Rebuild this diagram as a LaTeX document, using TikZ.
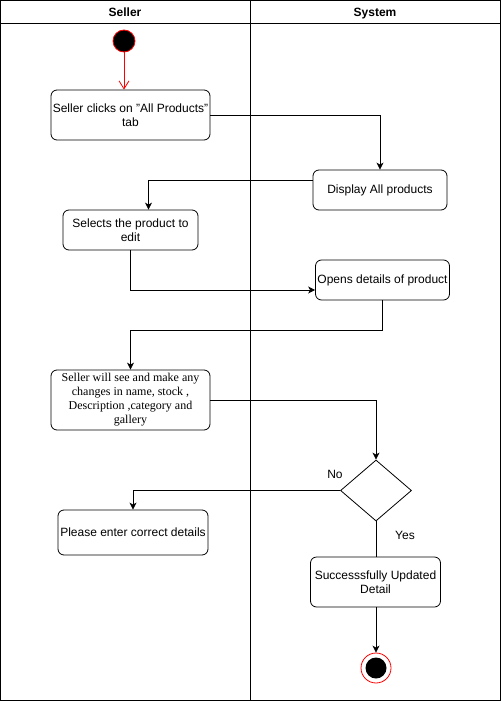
\documentclass[tikz,border=0pt]{standalone}
\usepackage{fontspec}
\setmainfont{Liberation Sans}
\newfontfamily\serifface{Liberation Serif}
\usetikzlibrary{arrows.meta,shapes.geometric}
\begin{document}
\begin{tikzpicture}[x=1pt,y=-1pt,
  font=\fontsize{12}{14.5}\selectfont,
  lane/.style={draw=black,line width=1pt},
  act/.style={draw=black,rounded corners=6pt,line width=0.8pt,align=center,inner sep=1pt},
  flow/.style={draw=black,line width=0.8pt,-{Stealth[length=7pt,width=7pt,inset=2pt]}},
  plain/.style={draw=black,line width=0.8pt},
  title/.style={font=\fontsize{12}{14}\selectfont\bfseries,anchor=base}]
\useasboundingbox (0,0) rectangle (501,701);
% swimlanes
\draw[lane] (0.5,0.5) rectangle (500.5,700.5);
\draw[lane] (0.5,23.5) -- (500.5,23.5);
\draw[lane] (250.5,0.5) -- (250.5,700.5);
\node[title] (hseller) at (125,16.5) {Seller};
\node[title] (hsystem) at (375,16.5) {System};
% start / end
\node[circle,fill=black,draw=red,line width=0.8pt,minimum size=22pt,inner sep=0] (start) at (124,41) {};
\node[circle,draw=red,line width=0.8pt,minimum size=30pt,inner sep=0] (stop) at (376,668) {};
\node[circle,fill=black,minimum size=21pt,inner sep=0] (stopdot) at (376,668) {};
% activities
\node[act,minimum width=159pt,minimum height=50pt] (b1) at (130.5,115) {Seller clicks on \symbol{34}All Products\symbol{34}\\tab};
\node[act,minimum width=134pt,minimum height=40pt] (b2) at (380,190) {Display All products};
\node[act,minimum width=135pt,minimum height=40pt] (b3) at (130.5,230) {Selects the product to\\edit};
\node[act,minimum width=134pt,minimum height=40pt] (b4) at (382.5,280) {Opens details of product};
\node[act,minimum width=159pt,minimum height=60pt,font=\serifface\fontsize{12}{14}\selectfont] (b5) at (130.5,400) {Seller will see and make any\\changes in name, stock ,\\Description ,category and\\gallery};
\node[act,minimum width=150pt,minimum height=45pt] (b6) at (133,532.5) {Please enter correct details};
\node[act,minimum width=130pt,minimum height=50pt] (b7) at (375.5,582) {Successsfully Updated\\Detail};
\node[diamond,draw=black,line width=0.8pt,minimum width=71pt,minimum height=61pt,aspect=1.16,inner sep=0] (dec) at (376,490.5) {};
% labels
\node (lno) at (335,474) {No};
\node (lyes) at (405,535) {Yes};
% connectors
\draw[draw=red,line width=0.8pt,-{Straight Barb[length=8pt,width=10pt]}] (start) -- (b1.north -| start);
\draw[flow] (b1.east) -| (b2.north);
\draw[flow] ([yshift=10pt]b2.west) -| ([xshift=18pt]b3.north);
\draw[flow] (b3.south) |- ([yshift=-10pt]b4.west);
\draw[flow] (b4.south) -- ++(0,30) -| (b5.north);
\draw[flow] (b5.east) -| (dec.north);
\draw[flow] (dec.west) -| (b6.north);
\draw[plain] (dec.south) -- (b7.north -| dec.south);
\draw[flow] (b7.south -| stop) -- (stop.north);
\end{tikzpicture}
\end{document}
